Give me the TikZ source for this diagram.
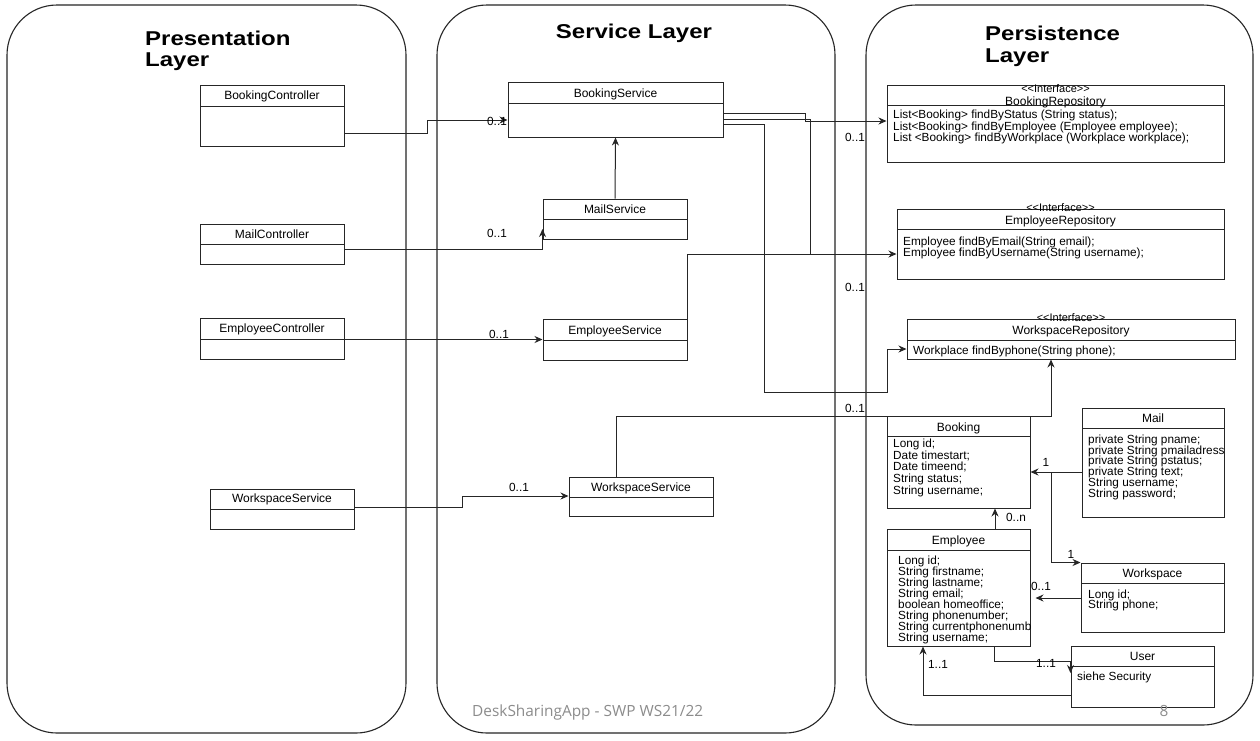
\documentclass[tikz,border=0pt]{standalone}
\usepackage{graphicx}
\usepackage{fontspec}
\setmainfont{Liberation Sans}
\newfontfamily\footfont{Open Sans}
\usetikzlibrary{arrows.meta,fit}
\newcommand\ubox[8]{%
  \path (#2,#3) coordinate (#1-nw) (#4,#5) coordinate (#1-se);
  \node[classbox,fit=(#1-nw)(#1-se)] (#1) {};
  \draw[sepline] (#2,#6) -- (#4,#6);
  \node[hdr] (#1-t) at ({(#2+#4)/2},#7) {#8};
}
\newcommand\ustereo[2]{\node[stereo] (#1-s) at (#1.north |- 0,#2) {<{}<Interface>{}>};}
\newcommand\ubody[5]{\node[body,font={\fontsize{11.8}{#4}\selectfont\lineskiplimit=-100pt},anchor=north west] (#1-b) at (#2,#3) {#5};}
\begin{document}
\begin{tikzpicture}[x=1pt,y=-1pt,
  layer/.style={draw=black!85,line width=1.1pt,rounded corners=50pt},
  classbox/.style={draw=black!85,line width=1pt,inner sep=0pt},
  sepline/.style={draw=black!85,line width=1pt},
  hdr/.style={font=\fontsize{12}{13}\selectfont,inner sep=0pt,text height=8pt,text depth=0pt},
  stereo/.style={font=\fontsize{11}{12}\selectfont,inner sep=0pt,text height=7.5pt,text depth=0pt},
  body/.style={align=left,inner sep=0pt},
  lbl/.style={font=\fontsize{11.8}{13}\selectfont,inner sep=0pt,text height=8pt,text depth=0pt},
  ttl/.style={font=\fontsize{20}{22}\bfseries\selectfont,inner sep=0pt},
  ln/.style={draw=black!85,line width=1pt},
  arr/.style={draw=black!85,line width=1pt,-{Stealth[length=8pt,width=7pt]}}]
\useasboundingbox (0,0) rectangle (1260,740);
\fill[white] (0,0) rectangle (1260,740);

% layers
\draw[layer] (7,5) rectangle (406,733);
\draw[layer] (437,5) rectangle (835,733);
\draw[layer] (866,5) rectangle (1253,725);

% titles
\node[ttl,anchor=base west] (t1a) at (145,45) {\scalebox{1.2}[1]{Presentation}};
\node[ttl,anchor=base west] (t1b) at (145,66) {\scalebox{1.2}[1]{Layer}};
\node[ttl,anchor=base] (t2) at (634,38) {\scalebox{1.2}[1]{Service Layer}};
\node[ttl,anchor=base west] (t3a) at (985,40) {\scalebox{1.2}[1]{Persistence}};
\node[ttl,anchor=base west] (t3b) at (985,62) {\scalebox{1.2}[1]{Layer}};

% presentation boxes
\ubox{bc}{200}{85}{344}{146}{106}{95}{BookingController}
\ubox{mc}{200}{224}{344}{264}{244}{234}{MailController}
\ubox{ec}{200}{318}{344}{359}{339}{328}{EmployeeController}
\ubox{wsl}{210}{489}{354}{529}{509}{498}{WorkspaceService}

% service boxes
\ubox{bs}{508}{82}{723}{137}{103}{93}{BookingService}
\ubox{ms}{543}{199}{687}{239}{219}{209}{MailService}
\ubox{es}{543}{319}{687}{360}{340}{330}{EmployeeService}
\ubox{ws}{569}{477}{713}{516}{497}{487}{WorkspaceService}

% persistence boxes
\ubox{br}{887}{85}{1224}{162}{105}{101}{BookingRepository}
\ustereo{br}{89}
\ubody{br}{893}{110}{11.5}{List<Booking> findByStatus (String status);\\List<Booking> findByEmployee (Employee employee);\\List <Booking> findByWorkplace (Workplace workplace);}

\ubox{er}{897}{209}{1224}{279}{229}{220}{EmployeeRepository}
\ustereo{er}{208}
\ubody{er}{903}{236.5}{11}{Employee findByEmail(String email);\\Employee findByUsername(String username);}

\ubox{wr}{907}{319}{1235}{359}{340}{330}{WorkspaceRepository}
\ustereo{wr}{318}
\ubody{wr}{913}{345.5}{11}{Workplace findByphone(String phone);}

\ubox{bk}{887}{416}{1030}{508}{436}{427}{Booking}
\ubody{bk}{893}{438.5}{11.75}{Long id;\\Date timestart;\\Date timeend;\\String status;\\String username;}

\ubox{ml}{1082}{408}{1224}{517}{428}{418}{Mail}
\begin{scope}
\clip (ml-nw) rectangle (ml-se);
\ubody{ml}{1088}{434.5}{10.8}{private String pname;\\private String pmailadresse;\\private String pstatus;\\private String text;\\String username;\\String password;}
\end{scope}

\ubox{em}{887}{529}{1030}{646}{550}{540}{Employee}
\begin{scope}
\clip (em-nw) rectangle (em-se);
\ubody{em}{898}{555.5}{11}{Long id;\\String firstname;\\String lastname;\\String email;\\boolean homeoffice;\\String phonenumber;\\String currentphonenumber;\\String username;}
\end{scope}

\ubox{wk}{1081}{563}{1224}{632}{583}{573}{Workspace}
\ubody{wk}{1088}{589.5}{10.5}{Long id;\\String phone;}

\ubox{us}{1071}{646}{1214}{707}{666}{656}{User}
\ubody{us}{1077}{671.5}{11}{siehe Security}

% presentation -> service
\draw[arr] (bc.east |- 0,133) -| (427,120) -- (bs.west |- 0,120);
\draw[arr] (mc.east |- 0,249) -| (ms.south west |- 0,229);
\draw[arr] (ec.east |- 0,339.5) -- (es.west |- 0,339.5);
\draw[arr] (wsl.east |- 0,507) -| (462,496) -- (ws.west |- 0,496);
\draw[arr] (ms.north) -- (bs.south);

% service -> persistence
\draw[arr] (bs.east |- 0,113) -- (805,113) -- (805,121) -- (br.west |- 0,121);
\draw[ln] (bs.east |- 0,119) -- (810,119) -- (810,254);
\draw[arr] (es.north east) |- (er.west |- 0,254);
\draw[arr] (bs.east |- 0,124) -- (764,124) -- (764,392) -- (887,392) -- (887,349) -- (wr.west |- 0,349);
\draw[arr] (ws.north -| 616,0) -- (616,416) -| (wr.south -| 1051,0);

% persistence internal
\coordinate (j1) at (1051,472);
\draw[arr] (ml.west |- 0,472) -- (bk.east |- 0,472);
\draw[arr] (j1) |- (wk.north west);
\draw[arr] (em.north -| 995,0) -- (bk.south -| 995,0);
\draw[arr] (wk.west |- 0,598) -- ([xshift=5pt]em.east |- 0,598);
\draw[arr] (em.south -| 994,0) |- (us.west |- 0,661) -- ++(0,12);
\draw[arr] (us.west |- 0,695) -| (em.south -| 923,0);

% labels
\node[lbl] (l1) at (497,121) {0..1};
\node[lbl] (l2) at (497,233) {0..1};
\node[lbl] (l3) at (499,334) {0..1};
\node[lbl] (l4) at (519,487) {0..1};
\node[lbl] (l5) at (855,137) {0..1};
\node[lbl] (l6) at (855,287) {0..1};
\node[lbl] (l7) at (855,408) {0..1};
\node[lbl] (l8) at (1046,462) {1};
\node[lbl] (l9) at (1071,554) {1};
\node[lbl] (l10) at (1016,517) {0..n};
\node[lbl] (l11) at (1041,586) {0..1};
\node[lbl] (l12) at (1046,663) {1..1};
\node[lbl] (l13) at (938,664) {1..1};

% footer
\node[font=\footfont\fontsize{15.4}{17}\selectfont,text=black!45,anchor=base west,inner sep=0pt] (foot) at (472,716) {DeskSharingApp - SWP WS21/22};
\node[font=\footfont\fontsize{15.4}{17}\selectfont,text=black!45,anchor=base,inner sep=0pt] (page) at (1164,716) {8};
\end{tikzpicture}
\end{document}
